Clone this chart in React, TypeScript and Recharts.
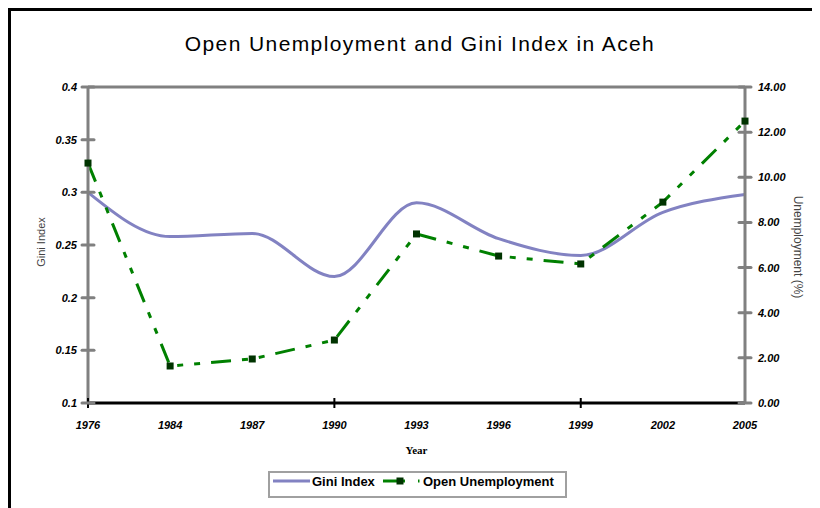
import React from 'react';
import { LineChart, Line, XAxis, YAxis, ReferenceLine } from 'recharts';

const years = ['1976', '1984', '1987', '1990', '1993', '1996', '1999', '2002', '2005'];
const giniIndex = [0.3, 0.258, 0.261, 0.22, 0.29, 0.256, 0.24, 0.281, 0.298];
const openUnemployment = [10.63, 1.64, 1.95, 2.79, 7.49, 6.51, 6.16, 8.9, 12.49];
const giniTicks = [0.1, 0.15, 0.2, 0.25, 0.3, 0.35, 0.4];
const unempTicks = [0, 2, 4, 6, 8, 10, 12, 14];
const tickedYears = ['1976', '1990', '1999'];

const data = years.map((y, i) => ({ year: y, gini: giniIndex[i], unemp: openUnemployment[i] }));

const GRAY = '#808080';
const PURPLE = '#8282C2';
const GREEN = '#008000';
const DARKGREEN = '#003300';
const SANS = 'Liberation Sans, Arial, sans-serif';
const TICKFONT = { fontFamily: SANS, fontSize: 11, fontWeight: 700, fontStyle: 'italic', fill: '#000' } as const;

const LeftTick = (props: any) => {
  const { x, y, payload } = props;
  const v = Math.round(payload.value * 100) / 100;
  return (
    <g>
      <line x1={x - 6} x2={x + 6} y1={y} y2={y} stroke={GRAY} strokeWidth={3} strokeLinecap="round" />
      <text x={x - 11} y={y} dy={4} textAnchor="end" {...TICKFONT}>{String(v)}</text>
    </g>
  );
};

const RightTick = (props: any) => {
  const { x, y, payload } = props;
  return (
    <g>
      <line x1={x - 6} x2={x + 6} y1={y} y2={y} stroke={GRAY} strokeWidth={3} strokeLinecap="round" />
      <text x={x + 13} y={y} dy={4} textAnchor="start" {...TICKFONT}>{Number(payload.value).toFixed(2)}</text>
    </g>
  );
};

const XTick = (props: any) => {
  const { x, y, payload } = props;
  const showLine = tickedYears.includes(payload.value);
  return (
    <g>
      {showLine && <line x1={x} x2={x} y1={y - 5} y2={y + 5} stroke="#000" strokeWidth={2} />}
      <text x={x} y={y + 26} textAnchor="middle" {...TICKFONT}>{payload.value}</text>
    </g>
  );
};

const SquareDot = (props: any) => {
  const { cx, cy, index } = props;
  if (cx == null || cy == null) return null;
  return <rect key={`d${index}`} x={cx - 3.5} y={cy - 3.5} width={7} height={7} fill={DARKGREEN} />;
};

const LeftTitle = (props: any) => {
  const vb = props.viewBox || {};
  const cx = vb.x + 30;
  const cy = vb.y + vb.height / 2 - 3;
  return (
    <text x={cx} y={cy} dy={4} transform={`rotate(-90, ${cx}, ${cy})`} textAnchor="middle" fontFamily={SANS} fontSize={11} fill="#444">
      Gini Index
    </text>
  );
};

const RightTitle = (props: any) => {
  const vb = props.viewBox || {};
  const cx = vb.x + 53;
  const cy = vb.y + vb.height / 2 + 2;
  return (
    <text x={cx} y={cy} dy={4} transform={`rotate(90, ${cx}, ${cy})`} textAnchor="middle" fontFamily={SANS} fontSize={12} fill="#444">
      Unemployment  (%)
    </text>
  );
};

export default function App() {
  return (
    <div
      style={{
        position: 'relative',
        width: 812,
        height: 500,
        boxSizing: 'border-box',
        borderTop: '3px solid #000',
        borderLeft: '3px solid #000',
        overflow: 'hidden',
        background: '#fff',
      }}
    >
      <style>{'html,body{overflow:hidden;}'}</style>
      <div
        style={{
          position: 'absolute',
          left: 9,
          top: 21,
          width: 800,
          textAlign: 'center',
          fontFamily: SANS,
          fontSize: 21,
          letterSpacing: 1.4,
          color: '#000',
          whiteSpace: 'nowrap',
        }}
      >
        Open Unemployment and Gini Index in Aceh
      </div>
      <LineChart width={801} height={489} data={data} margin={{ top: 76, right: 0, bottom: 37, left: 0 }}>
        <XAxis
          dataKey="year"
          scale="point"
          padding={{ left: 0, right: 0 }}
          height={60}
          axisLine={{ stroke: '#000', strokeWidth: 3 }}
          tickLine={false}
          tickSize={0}
          tickMargin={0}
          tick={<XTick />}
          interval={0}
          label={{
            value: 'Year',
            position: 'insideBottom',
            offset: 9,
            style: { fontFamily: 'Liberation Serif, Times New Roman, serif', fontSize: 11, fontWeight: 700, fill: '#000' },
          }}
        />
        <YAxis
          yAxisId="left"
          orientation="left"
          width={77}
          domain={[0.1, 0.4]}
          ticks={giniTicks}
          interval={0}
          axisLine={{ stroke: GRAY, strokeWidth: 3 }}
          tickLine={false}
          tickSize={0}
          tickMargin={0}
          tick={<LeftTick />}
          label={<LeftTitle />}
        />
        <YAxis
          yAxisId="right"
          orientation="right"
          width={67}
          domain={[0, 14]}
          ticks={unempTicks}
          interval={0}
          axisLine={{ stroke: GRAY, strokeWidth: 3 }}
          tickLine={false}
          tickSize={0}
          tickMargin={0}
          tick={<RightTick />}
          label={<RightTitle />}
        />
        <ReferenceLine yAxisId="left" y={0.4} stroke={GRAY} strokeWidth={3} />
        <Line
          yAxisId="left"
          dataKey="gini"
          type="monotone"
          stroke={PURPLE}
          strokeWidth={3}
          dot={false}
          activeDot={false}
          isAnimationActive={false}
        />
        <Line
          yAxisId="right"
          dataKey="unemp"
          type="linear"
          stroke={GREEN}
          strokeWidth={3}
          strokeDasharray="20 11 6 11 6 11"
          dot={<SquareDot />}
          activeDot={false}
          isAnimationActive={false}
        />
      </LineChart>
      <svg width={300} height={27} style={{ position: 'absolute', left: 257, top: 460 }}>
        <rect x={1} y={1} width={297} height={25} fill="#fff" stroke="#a0a0a0" strokeWidth={2} />
        <line x1={5} x2={42} y1={10} y2={10} stroke={PURPLE} strokeWidth={3} />
        <text x={44} y={15} fontFamily={SANS} fontSize={13} fontWeight={700} fill="#000">Gini Index</text>
        <line x1={115} x2={137} y1={10} y2={10} stroke={GREEN} strokeWidth={3} />
        <rect x={128.5} y={6.5} width={7} height={7} fill={DARKGREEN} />
        <line x1={150} x2={151.5} y1={10} y2={10} stroke={GREEN} strokeWidth={3} />
        <text x={155} y={15} fontFamily={SANS} fontSize={13} fontWeight={700} fill="#000">Open Unemployment</text>
      </svg>
    </div>
  );
}
